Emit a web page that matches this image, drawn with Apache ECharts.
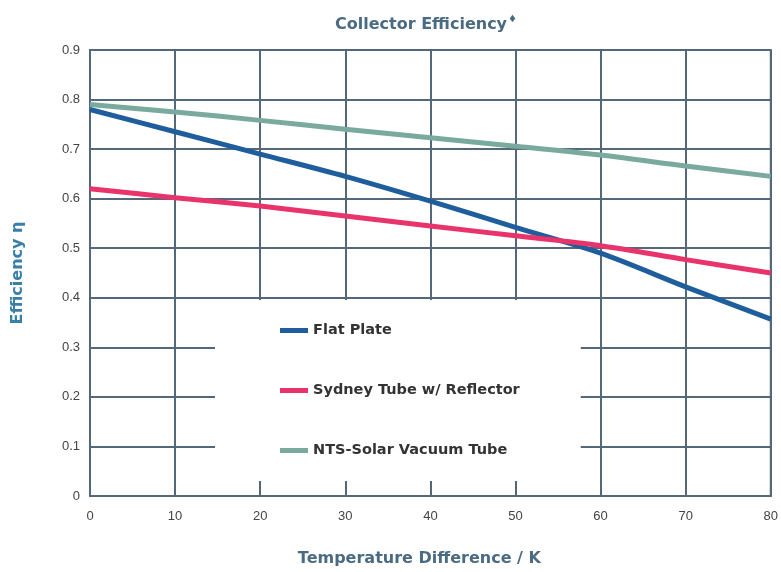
<!DOCTYPE html>
<html><head><meta charset="utf-8">
<script src="https://cdn.jsdelivr.net/npm/echarts@6/dist/echarts.min.js"></script>
<style>html,body{margin:0;padding:0;background:#fff;overflow:hidden}#c{width:781px;height:572px}</style>
</head><body><div id="c"></div>
<script>
var tempDiff = [0, 10, 20, 30, 40, 50, 60, 70, 80];
var flatPlate = [0.78, 0.735, 0.69, 0.645, 0.595, 0.542, 0.49, 0.422, 0.357];
var sydneyTube = [0.62, 0.602, 0.585, 0.565, 0.545, 0.525, 0.505, 0.477, 0.45];
var ntsVacuum = [0.79, 0.775, 0.758, 0.74, 0.723, 0.706, 0.688, 0.666, 0.645];
var seriesNames = ['Flat Plate', 'Sydney Tube w/ Reflector', 'NTS-Solar Vacuum Tube'];

function pairs(v){ return tempDiff.map(function(x,i){return [x, v[i]];}); }
var gridColor = '#55687a';
var heavy = 'DejaVu Sans';
var chart = echarts.init(document.getElementById('c'));
chart.setOption({
  animation: false,
  backgroundColor: '#fff',
  title: {
    text: 'Collector Efficiency{d|♦}',
    left: 330, top: 9,
    textStyle: {
      fontFamily: heavy, fontWeight: 'bold', fontSize: 16, color: '#4a6b82',
      rich: { d: { fontSize: 10, color: '#4a6b82', verticalAlign: 'top', padding: [0,0,12,1] } }
    }
  },
  grid: { left: 90, right: 4, top: 50, bottom: 69, show: true, borderColor: gridColor, borderWidth: 2 },
  xAxis: {
    type: 'value', min: 0, max: 80, interval: 10,
    name: 'Temperature Difference / K', nameLocation: 'middle', nameGap: 55,
    nameTextStyle: { fontFamily: heavy, fontWeight: 'bold', fontSize: 16, color: '#4a6b82', padding: [0,0,0,-22] },
    axisLine: { lineStyle: { color: gridColor, width: 2 } },
    axisTick: { show: false },
    axisLabel: { color: '#444', fontFamily: 'Liberation Sans', fontSize: 13, margin: 14 },
    splitLine: { lineStyle: { color: gridColor, width: 2 } }
  },
  yAxis: {
    type: 'value', min: 0, max: 0.9, interval: 0.1,
    name: 'Efficiency η', nameLocation: 'middle', nameGap: 64, nameRotate: 90,
    nameTextStyle: { fontFamily: heavy, fontWeight: 'bold', fontSize: 16, color: '#3a7fa8' },
    axisLine: { lineStyle: { color: gridColor, width: 2 } },
    axisTick: { show: false },
    axisLabel: { color: '#444', fontFamily: 'Liberation Sans', fontSize: 13, margin: 10,
      formatter: function(v){ return v === 0 ? '0' : v.toFixed(1); } },
    splitLine: { lineStyle: { color: gridColor, width: 2 } }
  },
  legend: {
    orient: 'vertical', left: 215, top: 300,
    backgroundColor: '#fff',
    padding: [23, 61, 23, 65],
    itemGap: 45, itemWidth: 28, itemHeight: 5,
    icon: 'rect',
    textStyle: { fontFamily: heavy, fontWeight: 'bold', fontSize: 14.5, color: '#333' },
    data: seriesNames
  },
  color: ['#1f5e9c', '#e8336b', '#7aaa9d'],
  series: [
    { name: seriesNames[0], type: 'line', data: pairs(flatPlate), smooth: 0.3, showSymbol: false, lineStyle: { width: 5 } },
    { name: seriesNames[1], type: 'line', data: pairs(sydneyTube), smooth: 0.3, showSymbol: false, lineStyle: { width: 5 } },
    { name: seriesNames[2], type: 'line', data: pairs(ntsVacuum), smooth: 0.3, showSymbol: false, lineStyle: { width: 5 } }
  ]
});
</script></body></html>
